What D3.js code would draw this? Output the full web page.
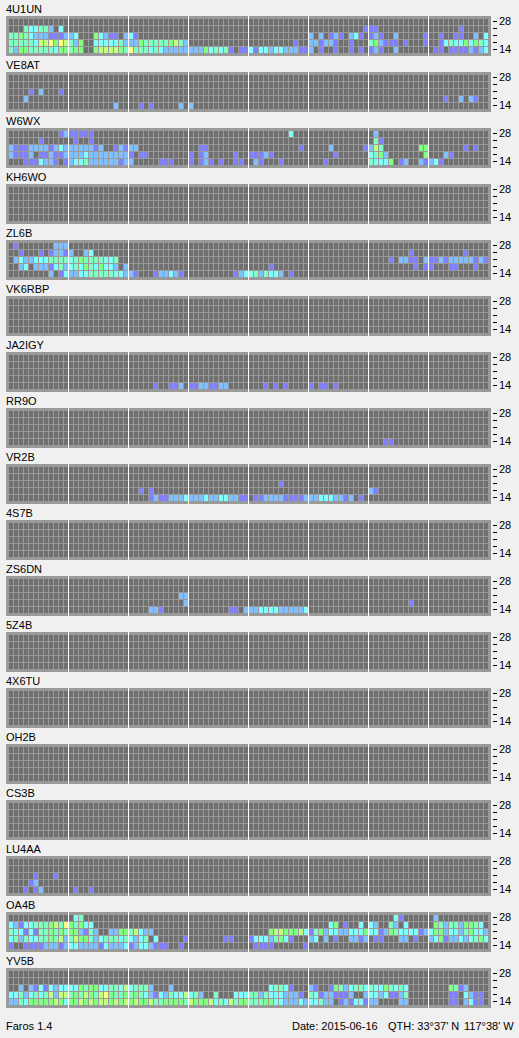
<!DOCTYPE html>
<html>
<head>
<meta charset="utf-8">
<title>Faros</title>
<script src="https://cdn.jsdelivr.net/npm/d3@7"></script>
<style>
  html, body { margin: 0; padding: 0; background: #f0f0f0; }
  svg { display: block; }
  text { font-family: "Liberation Sans", Arial, sans-serif; font-size: 11px; fill: #000; }
</style>
</head>
<body>
<div id="chart"></div>
<script>
// each station: five bands top to bottom, cells written as "startSlot:levels" (0 = nothing heard)
const stations = ["4U1UN", "VE8AT", "W6WX", "KH6WO", "ZL6B", "VK6RBP", "JA2IGY", "RR9O", "VR2B",
  "4S7B", "ZS6DN", "5Z4B", "4X6TU", "OH2B", "CS3B", "LU4AA", "OA4B", "YV5B"];
const bandLabels = ["28", "", "", "", "14"];
const slotCount = 96;
const slotsPerGridLine = 12;

const cells4U1UN = ["",
  "3:43344203 71:111 90:1",
  "0:44543222111223 17:532110231 60:202012102310121002 83:1 86:1 89:11 93:2 95:3",
  "0:444443667576425 17:333334222 26:5444445642 57:1 60:221221 68:1 72:452111 79:1 83:1 86:1343353543",
  "0:425544444355455 17:56666547444343 31:22222222 39:534341 46:11313 51:3233222112 62:1 65:1 68:1 70:1 72:121 77:2 85:11 88:11112123"];
const cellsVE8AT = ["", "",
  "4:1 6:2 10:1",
  "3:2 87:1 90:2 92:21",
  "21:2 26:1 28:1 34:2 36:2"];
const cellsW6WX = [
  "10:1211111 56:3 73:2",
  "6:1 13:1 16:1 73:41",
  "0:2111222212322222212 21:12122 38:11 58:1 64:2 71:1264 82:55 91:1 93:1",
  "0:21112 6:1121122223222222221 26:11 36:1 38:12 45:1 48:11121 65:1 72:3452 83:5 87:21",
  "3:1113221 11:1 12:2334222222122 30:111 36:1 38:121 42:1 45:11 49:21 54:1 63:1 72:43335 78:12 82:21231"];
const cellsKH6WO = [];
const cellsZL6B = [
  "1:1 9:222",
  "2:1 6:1 8:12212 15:23 80:1 91:1",
  "1:232233344443454444334 76:1 78:2211 83:2112122222121",
  "2:23 5:22213423435435332 23:2 52:1 81:1 83:11 88:11 93:1",
  "8:2 10:1 11:322334444433221 29:122321 45:1233424332 56:1"];
const cellsVK6RBP = [];
const cellsJA2IGY = ["", "", "", "",
  "29:1 32:112 36:11221122 51:1 53:1 55:1 60:1 62:11 65:1"];
const cellsRR9O = ["", "", "", "", "75:11"];
const cellsVR2B = ["", "",
  "54:1",
  "26:1 28:1 72:21",
  "28:1211222322232 41:23322 46:11 49:11 51:22221111222333 65:221 68:2 70:1"];
const cells4S7B = [];
const cellsZS6DN = ["", "",
  "34:22",
  "35:2 80:1",
  "28:221 44:11 47:222333322222 59:3"];
const cells5Z4B = [];
const cells4X6TU = [];
const cellsOH2B = [];
const cellsCS3B = [];
const cellsLU4AA = ["", "",
  "5:1 9:1",
  "4:12",
  "3:1 5:12 13:1 16:1"];
const cellsOA4B = [
  "13:34 77:31 85:2",
  "0:32133444564754533 64:35 67:1 70:3 72:32 76:42 79:3 85:5424425543",
  "0:433131445454552142 20:225546322 52:56655563145233223335331254333312355233245332",
  "0:3424334454624655423444343234 29:3 35:1 43:11 48:133324531 60:23 63:2 65:1 68:2212 73:11 78:22 81:1 84:235122323453",
  "0:1 3:11112221233222213222312332111 34:1 49:1111 59:1"];
const cellsYV5B = ["", "",
  "2:2 4:2131323333545533443634442 32:2 52:34431 60:21 64:1542344343354343 88:5412",
  "0:334234346266454654675445454321324336342 41:4 45:33344243332221 60:431221112 71:233231124 88:11 91:3211",
  "0:22435555565355656566565656556445555465556343645544455332223233422 66:12133122 78:22 88:11 91:2311"];

const stationCells = [cells4U1UN, cellsVE8AT, cellsW6WX, cellsKH6WO, cellsZL6B, cellsVK6RBP, cellsJA2IGY,
  cellsRR9O, cellsVR2B, cells4S7B, cellsZS6DN, cells5Z4B, cells4X6TU, cellsOH2B, cellsCS3B, cellsLU4AA,
  cellsOA4B, cellsYV5B];

const levels = [1, 2, 3, 4, 5, 6, 7];
const levelColors = ["#8080ff", "#80c0ff", "#80ffff", "#80ffc0", "#80ff80", "#c0ff80", "#ffff80"];

const width = 519;
const height = 1038;

const svg = d3.select("#chart")
  .append("svg")
  .attr("width", width)
  .attr("height", height);

// scales
const color = d3.scaleOrdinal().domain(levels).range(levelColors);
const x = d3.scaleBand().domain(d3.range(slotCount)).range([9, 489]);
const y = d3.scaleBand().domain(d3.range(5)).range([3, 38]);
const panelY = d3.scaleBand().domain(stations).range([16, 1024]);
const bandAxisY = d3.scalePoint().domain(d3.range(5)).range([5, 33]);

const yAxis = d3.axisRight(bandAxisY)
  .tickSize(4)
  .tickPadding(2)
  .tickFormat(i => bandLabels[i]);

// "12:345" -> one cell per digit
function parseCells(rows) {
  const out = [];
  rows.forEach((row, band) => {
    row.split(" ").filter(t => t).forEach(token => {
      const [start, digits] = token.split(":");
      digits.split("").forEach((c, i) => {
        if (+c > 0) out.push({ band, slot: +start + i, level: +c });
      });
    });
  });
  return out;
}

const emptyGrid = d3.cross(d3.range(5), d3.range(slotCount));

stations.forEach((name, idx) => {
  const g = svg.append("g").attr("transform", `translate(0,${panelY(name)})`);

  g.append("text").attr("x", 6).attr("y", -3).text(name);

  g.append("rect")
    .attr("x", 6).attr("y", 0)
    .attr("width", 485).attr("height", 40)
    .attr("fill", "#9a9a9a");

  // empty cells first
  g.selectAll(".empty")
    .data(emptyGrid)
    .enter().append("rect")
    .attr("class", "empty")
    .attr("x", d => x(d[1]))
    .attr("y", d => y(d[0]))
    .attr("width", 4)
    .attr("height", 6)
    .attr("fill", "#707070");

  g.selectAll(".cell")
    .data(parseCells(stationCells[idx]))
    .enter().append("rect")
    .attr("class", "cell")
    .attr("x", d => x(d.slot))
    .attr("y", d => y(d.band))
    .attr("width", 4)
    .attr("height", 6)
    .attr("fill", d => color(d.level));

  // white line every 12 slots
  g.selectAll(".hour")
    .data(d3.range(slotsPerGridLine, slotCount, slotsPerGridLine))
    .enter().append("rect")
    .attr("class", "hour")
    .attr("x", d => x(d) - 1)
    .attr("y", 0)
    .attr("width", 1)
    .attr("height", 40)
    .attr("fill", "#fff");

  const axis = g.append("g")
    .attr("transform", "translate(493,0)")
    .call(yAxis);
  axis.select(".domain").remove();
  axis.selectAll("line").attr("stroke", "#000");
});

// status bar
svg.append("text").attr("x", 6).attr("y", 1030).text("Faros 1.4");
svg.append("text").attr("x", 292).attr("y", 1030).text("Date: 2015-06-16");
svg.append("text").attr("x", 388).attr("y", 1030).text("QTH: 33°37' N");
svg.append("text").attr("x", 464).attr("y", 1030).text("117°38' W");
</script>
</body>
</html>
